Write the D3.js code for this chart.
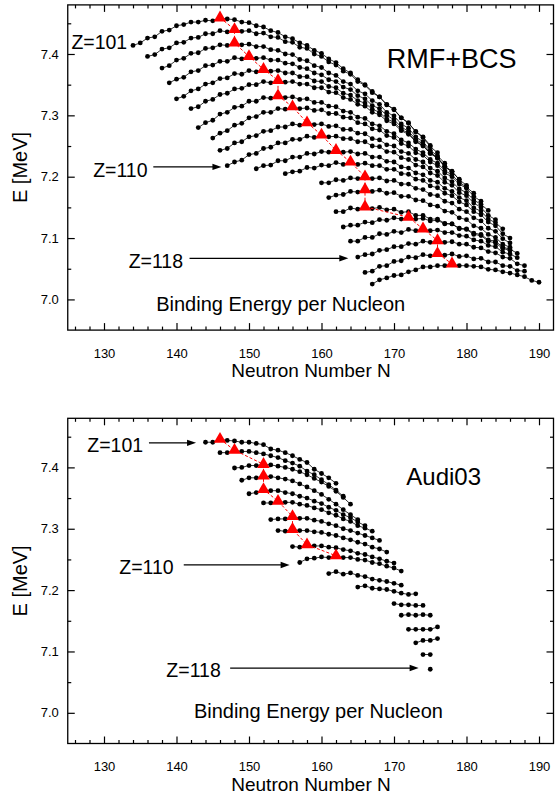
<!DOCTYPE html>
<html>
<head>
<meta charset="utf-8">
<script src="https://cdn.jsdelivr.net/npm/d3@7"></script>
<style>
  body { margin: 0; background: #fff; }
  text { font-family: "Liberation Sans", Arial, sans-serif; }
</style>
</head>
<body>
<div id="chart"></div>
<script>
// ---- data: binding energy per nucleon (MeV), one array per Z, consecutive N ----

// RMF+BCS (upper panel)
const rmf101 = [7.414, 7.418, 7.426, 7.428, 7.437, 7.439, 7.446, 7.448, 7.452, 7.452, 7.455, 7.454, 7.459, 7.457, 7.456, 7.452, 7.451, 7.446, 7.444, 7.438, 7.435, 7.428, 7.425, 7.418, 7.414, 7.406, 7.401, 7.392, 7.386, 7.376, 7.369, 7.358, 7.350, 7.339, 7.330, 7.318, 7.309, 7.296, 7.287, 7.274, 7.265, 7.251]
const rmf102 = [7.396, 7.399, 7.408, 7.410, 7.418, 7.419, 7.426, 7.427, 7.433, 7.433, 7.438, 7.436, 7.440, 7.437, 7.438, 7.433, 7.434, 7.428, 7.427, 7.420, 7.419, 7.411, 7.409, 7.400, 7.396, 7.387, 7.382, 7.372, 7.367, 7.355, 7.349, 7.337, 7.330, 7.317, 7.310, 7.296, 7.288, 7.273, 7.264, 7.249, 7.239]
const rmf103 = [7.377, 7.381, 7.390, 7.393, 7.401, 7.402, 7.409, 7.410, 7.415, 7.414, 7.418, 7.415, 7.416, 7.412, 7.412, 7.407, 7.406, 7.400, 7.399, 7.391, 7.389, 7.381, 7.378, 7.369, 7.365, 7.355, 7.351, 7.340, 7.335, 7.324, 7.318, 7.305, 7.299, 7.286, 7.279, 7.265, 7.257, 7.243, 7.234, 7.222]
const rmf104 = [7.353, 7.359, 7.362, 7.371, 7.373, 7.381, 7.382, 7.388, 7.388, 7.394, 7.392, 7.396, 7.393, 7.394, 7.390, 7.390, 7.385, 7.384, 7.378, 7.376, 7.369, 7.366, 7.358, 7.355, 7.346, 7.342, 7.332, 7.327, 7.316, 7.311, 7.300, 7.293, 7.281, 7.274, 7.261, 7.253, 7.240, 7.231, 7.217, 7.208]
const rmf105 = [7.327, 7.331, 7.340, 7.343, 7.351, 7.353, 7.360, 7.361, 7.368, 7.367, 7.373, 7.371, 7.375, 7.372, 7.373, 7.369, 7.369, 7.363, 7.363, 7.356, 7.355, 7.347, 7.345, 7.336, 7.333, 7.324, 7.320, 7.310, 7.305, 7.294, 7.289, 7.277, 7.271, 7.258, 7.251, 7.238, 7.230, 7.216, 7.208, 7.196]
const rmf106 = [7.311, 7.314, 7.323, 7.326, 7.334, 7.336, 7.343, 7.344, 7.350, 7.350, 7.355, 7.353, 7.357, 7.354, 7.355, 7.351, 7.351, 7.345, 7.345, 7.338, 7.337, 7.329, 7.326, 7.318, 7.315, 7.305, 7.301, 7.291, 7.286, 7.275, 7.269, 7.257, 7.250, 7.238, 7.231, 7.217, 7.209, 7.195, 7.186]
const rmf107 = [7.280, 7.288, 7.292, 7.302, 7.305, 7.313, 7.315, 7.323, 7.323, 7.329, 7.328, 7.332, 7.329, 7.330, 7.326, 7.327, 7.321, 7.321, 7.315, 7.314, 7.307, 7.305, 7.297, 7.295, 7.286, 7.283, 7.274, 7.270, 7.260, 7.255, 7.245, 7.239, 7.228, 7.222, 7.210, 7.203, 7.191, 7.183, 7.173]
const rmf108 = [7.263, 7.271, 7.275, 7.284, 7.287, 7.296, 7.298, 7.305, 7.305, 7.311, 7.310, 7.314, 7.311, 7.312, 7.308, 7.309, 7.303, 7.303, 7.297, 7.296, 7.288, 7.286, 7.278, 7.276, 7.267, 7.264, 7.254, 7.250, 7.239, 7.235, 7.224, 7.218, 7.206, 7.200, 7.188, 7.181, 7.168, 7.160]
const rmf109 = [7.243, 7.246, 7.255, 7.257, 7.265, 7.267, 7.274, 7.275, 7.281, 7.281, 7.286, 7.284, 7.288, 7.285, 7.286, 7.282, 7.283, 7.277, 7.277, 7.271, 7.270, 7.262, 7.260, 7.252, 7.250, 7.241, 7.238, 7.228, 7.224, 7.214, 7.209, 7.198, 7.192, 7.180, 7.174, 7.162, 7.155, 7.145]
const rmf110 = [7.218, 7.224, 7.227, 7.236, 7.238, 7.246, 7.248, 7.255, 7.255, 7.261, 7.261, 7.266, 7.264, 7.268, 7.265, 7.266, 7.262, 7.262, 7.257, 7.257, 7.250, 7.249, 7.241, 7.240, 7.231, 7.228, 7.219, 7.216, 7.206, 7.202, 7.191, 7.186, 7.174, 7.169, 7.157, 7.150, 7.137, 7.130]
const rmf111 = [7.213, 7.218, 7.219, 7.226, 7.226, 7.232, 7.232, 7.238, 7.237, 7.241, 7.240, 7.243, 7.240, 7.241, 7.237, 7.238, 7.232, 7.232, 7.225, 7.224, 7.216, 7.214, 7.206, 7.203, 7.194, 7.191, 7.181, 7.176, 7.166, 7.161, 7.149, 7.144, 7.131, 7.125, 7.115]
const rmf112 = [7.205, 7.208, 7.209, 7.215, 7.214, 7.219, 7.218, 7.223, 7.220, 7.224, 7.220, 7.222, 7.218, 7.218, 7.212, 7.212, 7.205, 7.204, 7.196, 7.194, 7.185, 7.182, 7.173, 7.169, 7.159, 7.154, 7.143, 7.138, 7.126, 7.120, 7.107, 7.100]
const rmf113 = [7.190, 7.190, 7.195, 7.194, 7.198, 7.197, 7.200, 7.197, 7.198, 7.193, 7.194, 7.188, 7.188, 7.181, 7.179, 7.171, 7.169, 7.160, 7.157, 7.147, 7.143, 7.133, 7.128, 7.116, 7.111, 7.099, 7.092]
const rmf114 = [7.166, 7.170, 7.171, 7.176, 7.175, 7.179, 7.176, 7.178, 7.173, 7.174, 7.168, 7.168, 7.162, 7.161, 7.154, 7.152, 7.144, 7.142, 7.133, 7.130, 7.120, 7.116, 7.106, 7.101, 7.090, 7.085]
const rmf115 = [7.143, 7.143, 7.149, 7.147, 7.151, 7.148, 7.150, 7.146, 7.147, 7.142, 7.143, 7.137, 7.137, 7.131, 7.131, 7.124, 7.123, 7.115, 7.114, 7.106, 7.104, 7.095, 7.092, 7.083, 7.080]
const rmf116 = [7.118, 7.121, 7.121, 7.126, 7.125, 7.130, 7.129, 7.133, 7.131, 7.134, 7.131, 7.132, 7.128, 7.129, 7.123, 7.123, 7.116, 7.115, 7.108, 7.106, 7.097, 7.095, 7.085, 7.082, 7.075]
const rmf117 = [7.095, 7.095, 7.101, 7.101, 7.107, 7.106, 7.111, 7.109, 7.114, 7.112, 7.115, 7.112, 7.113, 7.109, 7.109, 7.104, 7.103, 7.097, 7.095, 7.088, 7.086, 7.077, 7.074, 7.068]
const rmf118 = [7.069, 7.073, 7.074, 7.080, 7.081, 7.086, 7.086, 7.091, 7.090, 7.095, 7.093, 7.096, 7.093, 7.094, 7.090, 7.090, 7.085, 7.084, 7.078, 7.076, 7.069, 7.067, 7.058, 7.055]
const rmf119 = [7.044, 7.046, 7.054, 7.055, 7.062, 7.063, 7.069, 7.068, 7.073, 7.071, 7.075, 7.072, 7.074, 7.070, 7.071, 7.066, 7.067, 7.061, 7.061, 7.055, 7.054, 7.047, 7.046]
const rmf120 = [7.025, 7.032, 7.035, 7.039, 7.040, 7.045, 7.048, 7.053, 7.053, 7.055, 7.055, 7.058, 7.055, 7.055, 7.054, 7.053, 7.049, 7.048, 7.045, 7.043, 7.040, 7.037, 7.031, 7.028]

const rmfChains = [rmf101, rmf102, rmf103, rmf104, rmf105, rmf106, rmf107, rmf108, rmf109, rmf110,
                   rmf111, rmf112, rmf113, rmf114, rmf115, rmf116, rmf117, rmf118, rmf119, rmf120]
const rmfFirstN = [134, 136, 138, 139, 140, 142, 143, 145, 146, 147, 151, 155, 160, 161, 162, 163, 164, 165, 166, 167]
const rmfPeakN = [146, 148, 148, 150, 152, 154, 154, 156, 158, 160, 162, 164, 166, 166, 166, 172, 174, 176, 176, 178]

// Audi03 (lower panel)
const audi101 = [7.441, 7.441, 7.446, 7.444, 7.443, 7.441, 7.441, 7.439, 7.437, 7.430, 7.428, 7.424, 7.419, 7.413, 7.408, 7.397, 7.390, 7.383, 7.374]
const audi102 = [7.424, 7.424, 7.428, 7.426, 7.426, 7.424, 7.422, 7.419, 7.416, 7.411, 7.407, 7.402, 7.394, 7.388, 7.380, 7.372, 7.363, 7.353]
const audi103 = [7.399, 7.400, 7.403, 7.403, 7.405, 7.404, 7.402, 7.400, 7.397, 7.393, 7.388, 7.382, 7.376, 7.369, 7.361, 7.351, 7.340]
const audi104 = [7.379, 7.383, 7.383, 7.386, 7.385, 7.383, 7.381, 7.378, 7.373, 7.368, 7.362, 7.356, 7.348, 7.340, 7.331, 7.323, 7.315]
const audi105 = [7.357, 7.359, 7.364, 7.362, 7.362, 7.359, 7.357, 7.353, 7.350, 7.345, 7.341, 7.335, 7.330, 7.323, 7.318, 7.311, 7.305]
const audi106 = [7.342, 7.342, 7.345, 7.343, 7.343, 7.340, 7.338, 7.334, 7.331, 7.326, 7.322, 7.316, 7.312, 7.305, 7.301, 7.296]
const audi107 = [7.315, 7.316, 7.316, 7.320, 7.317, 7.317, 7.314, 7.312, 7.308, 7.305, 7.300, 7.297, 7.293, 7.289, 7.285, 7.281]
const audi108 = [7.297, 7.296, 7.299, 7.297, 7.297, 7.295, 7.294, 7.291, 7.289, 7.285, 7.282, 7.278, 7.275, 7.270, 7.267, 7.262]
const audi109 = [7.271, 7.270, 7.274, 7.272, 7.272, 7.270, 7.269, 7.266, 7.264, 7.260, 7.258, 7.254, 7.251, 7.247, 7.244]
const audi110 = [7.245, 7.251, 7.252, 7.254, 7.253, 7.256, 7.253, 7.253, 7.250, 7.249, 7.245, 7.243, 7.239, 7.236, 7.231]
const audi111 = [7.227, 7.230, 7.226, 7.228, 7.224, 7.222, 7.218, 7.216, 7.214, 7.211, 7.208]
const audi112 = [7.205, 7.207, 7.203, 7.202, 7.201, 7.198, 7.195, 7.193, 7.194]
const audi113 = [7.178, 7.176, 7.176, 7.175, 7.175]
const audi114 = [7.159, 7.160, 7.159, 7.160, 7.159]
const audi115 = [7.136, 7.136, 7.136, 7.136, 7.140]
const audi116 = [7.114, 7.118, 7.118, 7.121]
const audi117 = [7.095, 7.095]
const audi118 = [7.071]

const audiChains = [audi101, audi102, audi103, audi104, audi105, audi106, audi107, audi108, audi109,
                    audi110, audi111, audi112, audi113, audi114, audi115, audi116, audi117, audi118]
const audiFirstN = [144, 146, 148, 149, 150, 152, 153, 154, 156, 157, 161, 165, 170, 171, 172, 173, 174, 175]
const audiPeakN = [146, 148, 152, 152, 152, 154, 156, 156, 158, 162]

// axis ticks
const xTicks = [130, 140, 150, 160, 170, 180, 190]
const yTicks = [7.0, 7.1, 7.2, 7.3, 7.4]

// ---- layout ----
const W = 556, H = 793
const PLOT_H = 325.2

const svg = d3.select("#chart").append("svg")
    .attr("width", W)
    .attr("height", H)

const x = d3.scaleLinear().domain([125, 192]).range([67.75, 553.5])

const line = d3.line()

function drawPanel(top, chains, firstN, peakN, title, notes) {
    const y = d3.scaleLinear().domain([6.95, 7.48]).range([top + PLOT_H, top])
    const g = svg.append("g")

    // minor / major ticks on all four sides, pointing inwards
    const xMinor = d3.range(126, 192, 2).filter(v => v % 10 !== 0)
    const yMinor = [7.05, 7.15, 7.25, 7.35, 7.45]
    const bottom = y(6.95)

    g.append("g").attr("transform", `translate(0,${bottom})`)
        .call(d3.axisBottom(x).tickValues(xMinor).tickSize(-3.5).tickSizeOuter(0).tickFormat(""))
    g.append("g").attr("class", "xaxis").attr("transform", `translate(0,${bottom})`)
        .call(d3.axisBottom(x).tickValues(xTicks).tickSize(-7).tickSizeOuter(0).tickPadding(18.5))
    g.append("g").attr("transform", `translate(0,${top})`)
        .call(d3.axisTop(x).tickValues(xMinor).tickSize(-3.5).tickSizeOuter(0).tickFormat(""))
    g.append("g").attr("transform", `translate(0,${top})`)
        .call(d3.axisTop(x).tickValues(xTicks).tickSize(-7).tickSizeOuter(0).tickFormat(""))

    g.append("g").attr("transform", `translate(${x(125)},0)`)
        .call(d3.axisLeft(y).tickValues(yMinor).tickSize(-3.5).tickSizeOuter(0).tickFormat(""))
    g.append("g").attr("class", "yaxis").attr("transform", `translate(${x(125)},0)`)
        .call(d3.axisLeft(y).tickValues(yTicks).tickSize(-7).tickSizeOuter(0).tickPadding(9)
            .tickFormat(d3.format(".1f")))
    g.append("g").attr("transform", `translate(${x(192)},0)`)
        .call(d3.axisRight(y).tickValues(yMinor).tickSize(-3.5).tickSizeOuter(0).tickFormat(""))
    g.append("g").attr("transform", `translate(${x(192)},0)`)
        .call(d3.axisRight(y).tickValues(yTicks).tickSize(-7).tickSizeOuter(0).tickFormat(""))

    g.selectAll(".domain").remove()
    g.selectAll(".tick line").attr("stroke", "#000").attr("stroke-width", 1.2)
    g.selectAll(".xaxis text, .yaxis text")
        .attr("font-family", "'Liberation Sans', Arial, sans-serif")
        .attr("font-size", 13)
        .attr("fill", "#000")

    g.append("rect")
        .attr("x", x(125))
        .attr("y", top)
        .attr("width", x(192) - x(125))
        .attr("height", PLOT_H)
        .attr("fill", "none")
        .attr("stroke", "#000")
        .attr("stroke-width", 1.3)

    // axis titles
    g.append("text")
        .attr("x", 311)
        .attr("y", bottom + 47)
        .attr("text-anchor", "middle")
        .attr("font-size", 19)
        .text("Neutron Number N")
    g.append("text")
        .attr("transform", `translate(27,${top + PLOT_H / 2}) rotate(-90)`)
        .attr("text-anchor", "middle")
        .attr("font-size", 20)
        .text("E [MeV]")

    // isotope chains
    chains.forEach((vals, i) => {
        const pts = vals.map((e, j) => [x(firstN[i] + j), y(e)])
        g.append("path")
            .attr("d", line(pts))
            .attr("fill", "none")
            .attr("stroke", "#000")
            .attr("stroke-width", 0.8)
        g.selectAll(null)
            .data(pts)
            .join("circle")
            .attr("cx", d => d[0])
            .attr("cy", d => d[1])
            .attr("r", 2.4)
            .attr("fill", "#000")
    })

    // most bound isotope of each chain
    const peaks = peakN.map((n, i) => [x(n), y(chains[i][n - firstN[i]])])
    g.append("path")
        .attr("d", line(peaks))
        .attr("fill", "none")
        .attr("stroke", "#ff0000")
        .attr("stroke-width", 1)
        .attr("stroke-dasharray", "3,2")
    g.selectAll(null)
        .data(peaks)
        .join("path")
        .attr("transform", d => `translate(${d[0]},${d[1]})`)
        .attr("d", d3.symbol().type(d3.symbolTriangle).size(68))
        .attr("fill", "#ff0000")

    // labels
    g.append("text")
        .attr("x", x(title.n))
        .attr("y", y(title.e))
        .attr("font-size", title.size)
        .text(title.text)
    g.append("text")
        .attr("x", x(notes.caption.n))
        .attr("y", y(notes.caption.e))
        .attr("font-size", 20)
        .text("Binding Energy per Nucleon")

    notes.z.forEach(z => {
        g.append("text")
            .attr("x", x(z.tn))
            .attr("y", y(z.te))
            .attr("font-size", 19.5)
            .text(z.label)
        if (z.a0 != null) {
            g.append("line")
                .attr("x1", x(z.a0))
                .attr("x2", x(z.a1) - 8)
                .attr("y1", y(z.ae))
                .attr("y2", y(z.ae))
                .attr("stroke", "#000")
                .attr("stroke-width", 1.3)
            g.append("path")
                .attr("d", `M${x(z.a1)},${y(z.ae)} l-9,-3.2 l0,6.4 z`)
                .attr("fill", "#000")
        }
    })
}

drawPanel(4.9, rmfChains, rmfFirstN, rmfPeakN,
    { text: "RMF+BCS", n: 169.0, e: 7.377, size: 27 },
    {
        caption: { n: 137.2, e: 6.981 },
        z: [
            { label: "Z=101", tn: 125.5, te: 7.408 },
            { label: "Z=110", tn: 128.5, te: 7.200, a0: 136.8, a1: 146.2, ae: 7.216 },
            { label: "Z=118", tn: 133.4, te: 7.051, a0: 141.8, a1: 163.7, ae: 7.067 }
        ]
    })

drawPanel(418.3, audiChains, audiFirstN, audiPeakN,
    { text: "Audi03", n: 171.7, e: 7.371, size: 24 },
    {
        caption: { n: 142.4, e: 6.992 },
        z: [
            { label: "Z=101", tn: 127.7, te: 7.425, a0: 136.2, a1: 142.7, ae: 7.440 },
            { label: "Z=110", tn: 132.1, te: 7.226, a0: 141.0, a1: 155.6, ae: 7.241 },
            { label: "Z=118", tn: 138.6, te: 7.058, a0: 147.4, a1: 173.4, ae: 7.073 }
        ]
    })
</script>
</body>
</html>
